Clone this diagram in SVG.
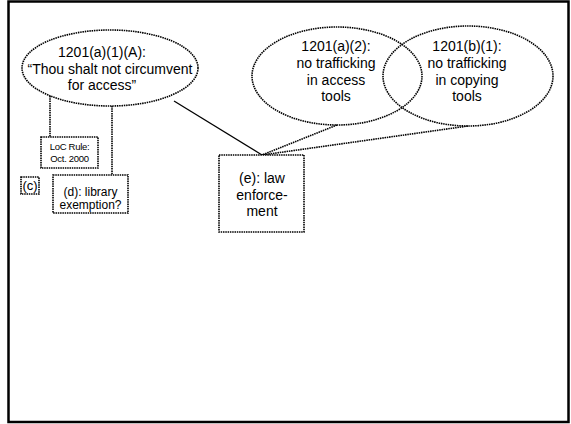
<svg xmlns="http://www.w3.org/2000/svg" width="571" height="424" viewBox="0 0 571 424">
  <style>
    .frame { fill: #fff; stroke: #000; stroke-width: 2.5; }
    .shape { fill: #fff; stroke: #000; stroke-width: 1.6; stroke-dasharray: 1.5 0.8; }
    .hollow { fill: none; }
    .dot { fill: none; stroke: #000; stroke-width: 1.6; stroke-dasharray: 1.5 0.8; }
    .solid { fill: none; stroke: #000; stroke-width: 1.3; }
    text { font-family: "Liberation Sans", Arial, sans-serif; fill: #000; text-anchor: middle; }
    .big { font-size: 14px; }
    .mid { font-size: 12px; }
    .small { font-size: 9.5px; letter-spacing: -0.3px; }
  </style>

  <!-- page frame -->
  <rect class="frame" x="8.5" y="1.5" width="560" height="420.5"/>

  <!-- connectors -->
  <g id="connectors">
    <line class="dot" x1="50" y1="96" x2="50" y2="137"/>
    <line class="dot" x1="112" y1="106" x2="112" y2="175"/>
    <line class="solid" x1="174" y1="101" x2="262" y2="155"/>
    <line class="dot" x1="337" y1="125" x2="262" y2="155"/>
    <line class="dot" x1="468" y1="126" x2="262" y2="155"/>
  </g>

  <!-- 1201(a)(1)(A) -->
  <g id="node-a1A">
    <ellipse class="shape" cx="110" cy="68" rx="88" ry="38"/>
    <text class="big" x="102" y="57">1201(a)(1)(A):</text>
    <text class="big" x="110" y="74">“Thou shalt not circumvent</text>
    <text class="big" x="102" y="90">for access”</text>
  </g>

  <!-- 1201(a)(2) -->
  <g id="node-a2">
    <ellipse class="shape hollow" cx="337" cy="76" rx="85" ry="49"/>
    <text class="big" x="336" y="51">1201(a)(2):</text>
    <text class="big" x="336" y="68">no trafficking</text>
    <text class="big" x="336" y="85">in access</text>
    <text class="big" x="336" y="101">tools</text>
  </g>

  <!-- 1201(b)(1) -->
  <g id="node-b1">
    <ellipse class="shape hollow" cx="468" cy="76" rx="85" ry="50"/>
    <text class="big" x="467" y="51">1201(b)(1):</text>
    <text class="big" x="467" y="68">no trafficking</text>
    <text class="big" x="467" y="85">in copying</text>
    <text class="big" x="467" y="101">tools</text>
  </g>

  <!-- LoC rule -->
  <g id="node-loc">
    <rect class="shape" x="41" y="137" width="57" height="31"/>
    <text class="small" x="69.5" y="150">LoC Rule:</text>
    <text class="small" x="69.5" y="162">Oct. 2000</text>
  </g>

  <!-- (c) -->
  <g id="node-c">
    <text x="30" y="190" style="font-size:13px">(c)</text>
    <rect class="shape hollow" x="21" y="177" width="18" height="17"/>
  </g>

  <!-- (d) -->
  <g id="node-d">
    <rect class="shape" x="53" y="175" width="75" height="38"/>
    <text class="mid" x="90.5" y="196">(d): library</text>
    <text class="mid" x="90.5" y="209">exemption?</text>
  </g>

  <!-- (e) -->
  <g id="node-e">
    <rect class="shape" x="219" y="155" width="85" height="77"/>
    <text class="big" x="262" y="183">(e): law</text>
    <text class="big" x="262" y="200">enforce-</text>
    <text class="big" x="262" y="216">ment</text>
  </g>
</svg>
